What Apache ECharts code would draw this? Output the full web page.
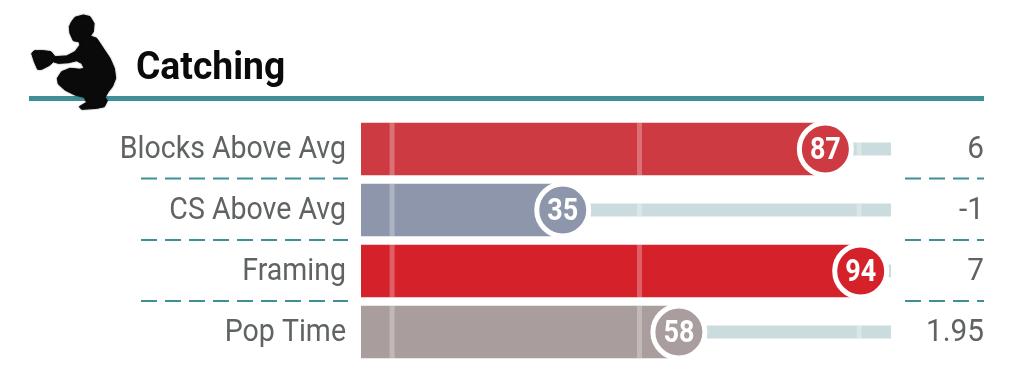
<!DOCTYPE html>
<html><head><meta charset="utf-8">
<style>html,body{margin:0;padding:0;background:#fff}#c{width:1024px;height:365px}</style>
<script src="https://cdn.jsdelivr.net/npm/echarts@6/dist/echarts.min.js"></script>
</head><body><div id="c"></div>
<script>
const categories = ['Blocks Above Avg', 'CS Above Avg', 'Framing', 'Pop Time'];
const percentiles = [87, 35, 94, 58];
const rawValues = ['6', '-1', '7', '1.95'];
const barColors = ['#CE3A42', '#8E96AB', '#D5212A', '#A99E9D'];
const referenceMarks = [1.2, 50.2, 93.7];
const titleText = 'Catching';

const AXIS_MIN = -4.95, AXIS_MAX = 100;
const TEAL = '#3F8F96', TRACK = '#CBDCDE', TEXT = '#5f6364';

const catcherOutline = [[150,22],[175,15],[195,20],[207,40],[205,65],[196,78],[215,85],[235,115],[255,145],[268,175],[272,205],[262,230],[250,245],[240,262],[247,272],[238,290],[215,295],[170,298],[163,290],[185,277],[178,262],[150,255],[120,240],[100,222],[97,205],[110,185],[135,175],[165,178],[178,175],[170,160],[155,152],[130,158],[100,160],[85,155],[75,165],[50,178],[38,178],[28,155],[20,130],[28,122],[55,122],[78,125],[90,140],[125,138],[150,125],[165,105],[162,95],[145,92],[135,70],[133,50],[140,35]].map(p => [25 + p[0] / 3, 10 + p[1] / 3]);

const chart = echarts.init(document.getElementById('c'), null, {renderer: 'canvas'});
const rowData = categories.map((c, i) => [percentiles[i], i]);

function dashes(y) {
  return [[141, 348], [905, 984]].map(r => ({
    type: 'line', z: 1, silent: true,
    shape: {x1: r[0], y1: y, x2: r[1], y2: y},
    style: {stroke: TEAL, lineWidth: 2, lineDash: [16, 8]}
  }));
}

chart.setOption({
  animation: false,
  backgroundColor: '#fff',
  grid: {left: 361, top: 118.5, width: 530, height: 244},
  xAxis: {type: 'value', min: AXIS_MIN, max: AXIS_MAX, show: false},
  yAxis: {type: 'category', data: categories, inverse: true, show: false},
  graphic: [
    {type: 'rect', z: 1, shape: {x: 29, y: 96, width: 955, height: 5}, style: {fill: TEAL}},
    {type: 'polygon', z: 2, shape: {points: catcherOutline}, style: {fill: '#0A0A0A', stroke: '#0A0A0A', lineWidth: 1, lineJoin: 'round', shadowBlur: 1.5, shadowColor: 'rgba(0,0,0,0.6)'}},
    {type: 'text', z: 3, x: 136, y: 69, scaleX: 0.98, style: {text: titleText, font: '700 38px Roboto', fill: '#0A0A0A', textVerticalAlign: 'middle', textAlign: 'left'}}
  ].concat(dashes(178.5), dashes(240), dashes(301)),
  series: [
    {
      type: 'custom', z: 2, clip: false, data: rowData,
      encode: {x: 0, y: 1},
      renderItem(params, api) {
        const i = api.value(1);
        const y = api.coord([0, i])[1];
        const x0 = api.coord([AXIS_MIN, i])[0];
        const xv = api.coord([api.value(0), i])[0];
        const x100 = api.coord([AXIS_MAX, i])[0];
        const barH = 52.5, trackH = 13;
        const children = [
          {type: 'rect', shape: {x: xv, y: y - trackH / 2, width: x100 - xv, height: trackH}, style: {fill: TRACK}},
          {type: 'rect', shape: {x: x0, y: y - barH / 2, width: xv - x0, height: barH}, style: {fill: barColors[i]}}
        ];
        referenceMarks.forEach(m => {
          const xm = api.coord([m, i])[0];
          const inBar = xm < xv;
          const mh = inBar ? barH : trackH;
          children.push({type: 'rect', shape: {x: xm - 2.5, y: y - mh / 2, width: 5, height: mh},
            style: {fill: inBar ? 'rgba(255,255,255,0.28)' : 'rgba(255,255,255,0.3)'}});
        });
        return {type: 'group', children};
      }
    },
    {
      type: 'scatter', z: 3, data: rowData, symbol: 'circle', symbolSize: 52,
      itemStyle: {color: p => barColors[p.dataIndex], borderColor: '#fff', borderWidth: 5, opacity: 1}
    },
    {
      type: 'custom', z: 4, clip: false, silent: true, data: rowData,
      encode: {x: 0, y: 1},
      renderItem(params, api) {
        const i = api.value(1);
        const c = api.coord([api.value(0), i]);
        const y = c[1] + 1;
        return {type: 'group', children: [
          {type: 'text', x: 346, y, scaleX: 0.92, style: {text: categories[i], font: '400 31px Roboto', fill: TEXT, textAlign: 'right', textVerticalAlign: 'middle'}},
          {type: 'text', x: 984, y, scaleX: 0.93, style: {text: rawValues[i], font: '400 32px Roboto', fill: TEXT, textAlign: 'right', textVerticalAlign: 'middle'}},
          {type: 'text', x: c[0], y: c[1] + 2, scaleX: 0.87, style: {text: String(api.value(0)), font: '700 31px Roboto', fill: '#fff', textAlign: 'center', textVerticalAlign: 'middle'}}
        ]};
      }
    }
  ]
});
</script></body></html>
